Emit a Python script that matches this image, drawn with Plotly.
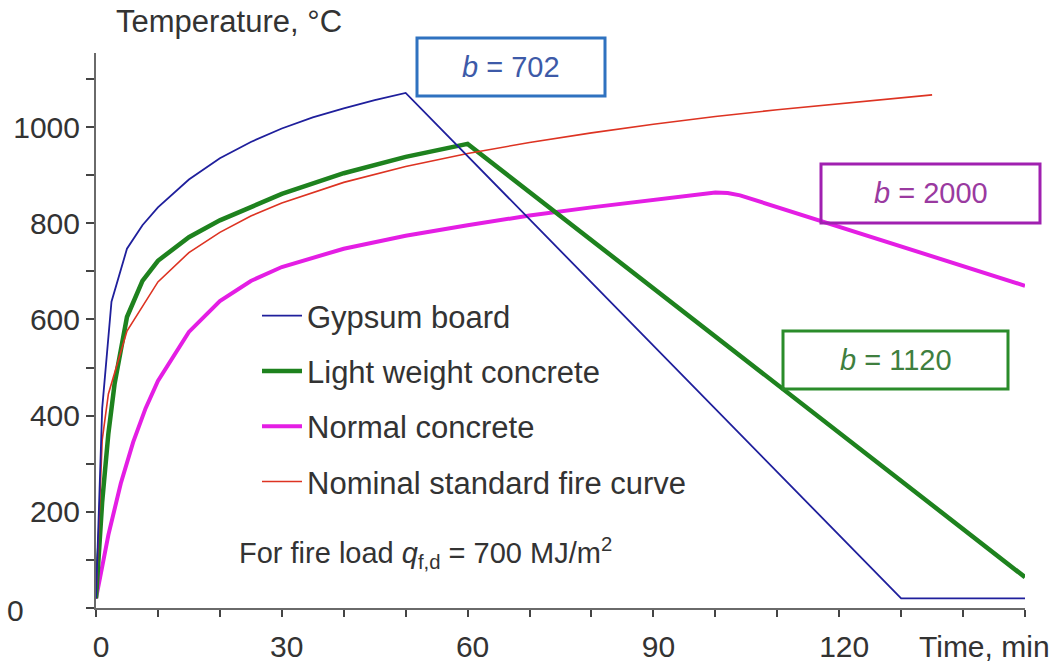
import plotly.graph_objects as go

# Time (min) and gas temperature (°C) for each lining material
t_gypsum = [0, 1, 2.5, 5, 7.5, 10, 15, 20, 25, 30, 35, 40, 45, 50, 130, 150]
T_gypsum = [20, 415, 637, 747, 796, 833, 891, 935, 969, 997, 1020, 1039, 1056, 1071, 20, 20]

t_lwc = [0, 1, 2, 3, 5, 7.5, 10, 15, 20, 30, 40, 50, 60, 150]
T_lwc = [20, 221, 363, 466, 605, 680, 722, 771, 806, 861, 904, 938, 965, 64]

t_nc = [0, 2, 4, 6, 8, 10, 15, 20, 25, 30, 40, 50, 60, 70, 80, 90, 98, 100, 102, 104, 150]
T_nc = [20, 152, 259, 345, 415, 472, 574, 638, 680, 709, 747, 774, 796, 816, 833, 849, 861, 864, 863, 858, 670]

t_iso = [0, 1, 2, 5, 10, 15, 20, 25, 30, 40, 50, 60, 70, 80, 90, 100, 110, 120, 135]
T_iso = [20, 349, 445, 576, 678, 739, 781, 815, 842, 885, 918, 945, 968, 988, 1006, 1022, 1036, 1049, 1067]

x_ticks = list(range(0, 151, 10))
x_labels = ["0", "", "", "30", "", "", "60", "", "", "90", "", "", "120", "", "", ""]
y_ticks = list(range(0, 1101, 100))
y_labels = ["", "", "200", "", "400", "", "600", "", "800", "", "1000", ""]

FONT = "Liberation Sans, Arial, sans-serif"
TXT = "#333333"

W, H = 1054, 667
ML, MR, MT, MB = 96, 29, 53, 59
PW, PH = W - ML - MR, H - MT - MB


def px(x):
    return (x - ML) / PW


def py(y):
    return (H - MB - y) / PH


fig = go.Figure()

# thick lines first so the thin curves stay visible on top
fig.add_trace(go.Scatter(x=t_nc, y=T_nc, mode="lines", name="Normal concrete",
                         line=dict(color="#e41ee4", width=4), legendrank=3,
                         legendgroup="c"))
fig.add_trace(go.Scatter(x=t_lwc, y=T_lwc, mode="lines", name="Light weight concrete",
                         line=dict(color="#1e821e", width=4.5), legendrank=2,
                         legendgroup="b"))
fig.add_trace(go.Scatter(x=t_iso, y=T_iso, mode="lines", name="Nominal standard fire curve",
                         line=dict(color="#dd3322", width=1.6), legendrank=4,
                         legendgroup="d"))
fig.add_trace(go.Scatter(x=t_gypsum, y=T_gypsum, mode="lines", name="Gypsum board",
                         line=dict(color="#1f1f9c", width=1.8), legendrank=1,
                         legendgroup="a"))

annotations = [
    dict(x=px(114), y=py(22), text="Temperature, °C", xanchor="left", yanchor="middle",
         font=dict(size=31, color=TXT, family=FONT)),
    dict(x=px(1052), y=py(646), text="Time, min", xanchor="right", yanchor="middle",
         font=dict(size=30, color=TXT, family=FONT)),
    dict(x=px(15), y=py(610), text="0", xanchor="center", yanchor="middle",
         font=dict(size=30, color=TXT, family=FONT)),
    dict(x=px(237), y=py(553), text="For fire load <i>q</i><sub>f,d</sub> = 700 MJ/m<sup>2</sup>",
         xanchor="left", yanchor="middle", font=dict(size=29, color=TXT, family=FONT)),
]

boxes = [
    # (x0, y0, x1, y1, border colour, text colour, label)
    (417, 38, 605, 96, "#2f72c0", "#3d5aa8", "<i>b</i> = 702"),
    (821, 164, 1040, 223, "#a020b0", "#9a3aa0", "<i>b</i> = 2000"),
    (783, 331, 1008, 389, "#2a8c2a", "#3f7f3f", "<i>b</i> = 1120"),
]
shapes = []
for x0, y0, x1, y1, bc, tc, label in boxes:
    shapes.append(dict(type="rect", xref="paper", yref="paper",
                       x0=px(x0), x1=px(x1), y0=py(y1), y1=py(y0),
                       line=dict(color=bc, width=3), fillcolor="rgba(255,255,255,0)"))
    annotations.append(dict(x=px((x0 + x1) / 2), y=py((y0 + y1) / 2), text=label,
                            xanchor="center", yanchor="middle",
                            font=dict(size=29, color=tc, family=FONT)))

for a in annotations:
    a.update(xref="paper", yref="paper", showarrow=False)

fig.update_layout(
    width=W, height=H,
    margin=dict(l=ML, r=MR, t=MT, b=MB, autoexpand=False),
    paper_bgcolor="white", plot_bgcolor="white",
    font=dict(family=FONT, color=TXT, size=30),
    showlegend=True,
    legend=dict(x=px(257), y=py(289), xanchor="left", yanchor="top",
                font=dict(size=31, color=TXT, family=FONT),
                bgcolor="rgba(255,255,255,0)", tracegroupgap=12,
                itemwidth=40),
    annotations=annotations,
    shapes=shapes,
)

fig.update_xaxes(range=[0, 150], tickvals=x_ticks, ticktext=x_labels,
                 automargin=False,
                 showgrid=False, zeroline=False, showline=True,
                 linecolor="#6a6a6a", linewidth=2,
                 ticks="outside", ticklen=7, tickwidth=2, tickcolor="#444",
                 ticklabelstandoff=4, ticklabelshift=5,
                 tickfont=dict(size=30, color=TXT, family=FONT))
fig.update_yaxes(range=[0, 1154], tickvals=y_ticks, ticktext=y_labels,
                 automargin=False,
                 showgrid=False, zeroline=False, showline=True,
                 linecolor="#6a6a6a", linewidth=2,
                 ticks="outside", ticklen=8, tickwidth=2, tickcolor="#444",
                 tickfont=dict(size=30, color=TXT, family=FONT))

fig.write_html("out.html")
